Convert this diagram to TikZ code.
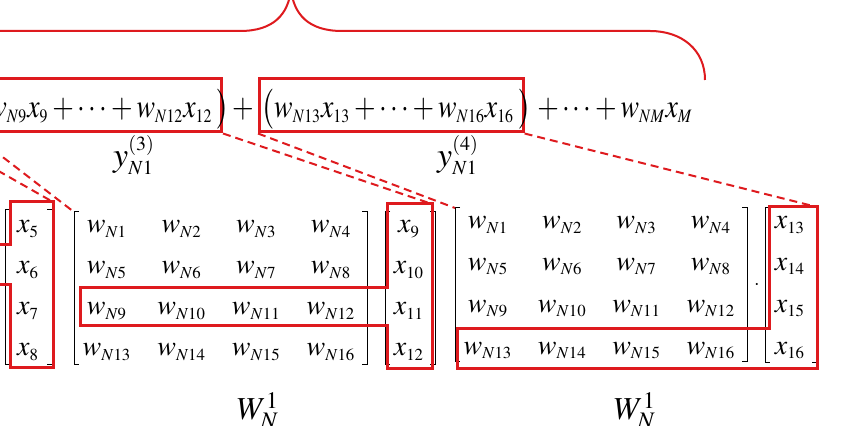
\documentclass[tikz,border=0pt]{standalone}
\usepackage{mathptmx}
\usepackage{graphicx}
\usepackage{tikz}
\usetikzlibrary{positioning,calc}
\DeclareMathSizes{13.9}{13.9}{7.9}{6}
\DeclareMathSizes{14}{14}{8.4}{6}
\DeclareMathSizes{17}{17}{10}{7}
\definecolor{hlred}{RGB}{222,26,30}

\tikzset{
  eqtext/.style={font=\fontsize{13.9}{17}\selectfont, inner sep=0pt},
  ylabel/.style={font=\fontsize{17}{20}\selectfont, inner sep=0pt, anchor=base},
  ent/.style={font=\fontsize{14}{16}\selectfont, inner sep=0pt, anchor=base},
  ybox/.style={eqtext, draw=hlred, line width=1.5pt, inner xsep=1pt, inner ysep=2pt,
               text height=17.5pt, text depth=5pt},
  hl/.style={draw=hlred, line width=1.5pt},
  link/.style={draw=hlred, line width=1pt, dash pattern=on 4pt off 2.5pt},
  brace/.style={draw=hlred, line width=1pt},
  brk/.style={line width=0.5pt}
}
% top row formulas are set a little taller
\newcommand{\tallmath}[1]{\scalebox{1}[1.2]{$#1$}}
% left x, right x, top y, bottom y
\newcommand{\brackets}[4]{%
  \draw[brk] (#1+5,#3) -- (#1,#3) -- (#1,#4) -- (#1+5,#4);
  \draw[brk] (#2-5,#3) -- (#2,#3) -- (#2,#4) -- (#2-5,#4);}

\begin{document}
\begin{tikzpicture}[x=0.5pt, y=-0.5pt]
  \useasboundingbox (0,0) rectangle (856,426);
  \clip (0,0) rectangle (856,426);

  % brace over the sum
  \draw[brace] (-123,80) .. controls (-123,50) and (-100,31) .. (-68,31) -- (240,31)
    .. controls (274,31) and (288,14) .. (291,-10)
    .. controls (294,14) and (308,31) .. (342,31) -- (650,31)
    .. controls (682,31) and (705,50) .. (705,80);

  % top row: y^(3) and y^(4) groups
  \coordinate (y2box) at (-70,132);
  \node[ybox, anchor=base east] (y3box) at (223,118) {\tallmath{\bigl(w_{N9}x_9+\cdots+w_{N12}x_{12}\hspace{3.5pt}}};
  \node[eqtext, anchor=base] (rp3) at (y3box.base east) {\tallmath{\bigr)}};
  \node[eqtext, anchor=base] (plus34) at (243,118) {\tallmath{+}};
  \node[ybox, anchor=base west] (y4box) at (258,118) {\tallmath{\bigl(w_{N13}x_{13}+\cdots+w_{N16}x_{16}\hspace{3.5pt}}};
  \node[eqtext, anchor=base] (rp4) at (y4box.base east) {\tallmath{\bigr)}};
  \node[eqtext, anchor=base west] (tail) at (537,118) {\tallmath{+\cdots+w_{NM}x_M}};
  \node[ylabel] (y3) at (134,167) {$y^{(3)}_{N1}$};
  \node[ylabel] (y4) at (458,167) {$y^{(4)}_{N1}$};

  % x_5..x_8
  \foreach \r in {1,...,4} {
    \pgfmathtruncatemacro{\k}{4+\r}
    \node[ent] (xa\r) at (28,{233+41*(\r-1)}) {$x_{\k}$};
  }
  % W^1_N times x_9..x_12
  \foreach \r in {1,...,4} {
    \foreach \c in {1,...,4} {
      \pgfmathtruncatemacro{\k}{4*(\r-1)+\c}
      \node[ent] (wb\r\c) at ({107+74.67*(\c-1)},{233+41*(\r-1)}) {$w_{N\k}$};
    }
    \pgfmathtruncatemacro{\k}{8+\r}
    \node[ent] (xb\r) at (409,{233+41*(\r-1)}) {$x_{\k}$};
  }
  % W^1_N times x_13..x_16
  \foreach \r in {1,...,4} {
    \foreach \c in {1,...,4} {
      \pgfmathtruncatemacro{\k}{4*(\r-1)+\c}
      \node[ent] (wc\r\c) at ({488+74.3*(\c-1)},{229+41.7*(\r-1)}) {$w_{N\k}$};
    }
    \pgfmathtruncatemacro{\k}{12+\r}
    \node[ent] (xc\r) at (790,{229+41.7*(\r-1)}) {$x_{\k}$};
  }
  \node[ent, font=\fontsize{10}{11}\selectfont] (dotb) at (377,293) {$\cdot$};
  \node[ent, font=\fontsize{10}{11}\selectfont] (dotc) at (757,290) {$\cdot$};

  \brackets{5}{52}{210}{365}
  \brackets{74}{367}{212}{365}
  \brackets{385}{435}{212}{365}
  \brackets{455}{747}{208}{362}
  \brackets{765}{817}{208}{363}

  \node[ylabel, font=\fontsize{16}{19}\selectfont] (Wb) at (258,420) {$W_N^1$};
  \node[ylabel, font=\fontsize{16}{19}\selectfont] (Wc) at (635,420) {$W_N^1$};

  % highlighted rows and vectors
  \draw[hl] (-20,245) -- (10,245) -- (10,202) -- (53,202) -- (53,368) -- (10,368) -- (10,285) -- (-20,285);
  \draw[hl] (80,288) -- (387,288) -- (387,204) -- (432,204) -- (432,369) -- (387,369) -- (387,326) -- (80,326) -- cycle;
  \draw[hl] (457,329) -- (769,329) -- (769,207) -- (817,207) -- (817,369) -- (457,369) -- cycle;

  % dashed links
  \coordinate (va-ne) at (53,202);
  \coordinate (wb-nw) at (74,212);
  \coordinate (vb-ne) at (432,204);
  \coordinate (wc-nw) at (455,208);
  \coordinate (vc-ne) at (817,207);
  \draw[link] (y2box) -- (va-ne);
  \draw[link] (y3box.south west) -- (wb-nw);
  \draw[link] (y3box.south east) -- (vb-ne);
  \draw[link] (y4box.south west) -- (wc-nw);
  \draw[link] (y4box.south east) -- (vc-ne);
\end{tikzpicture}
\end{document}
